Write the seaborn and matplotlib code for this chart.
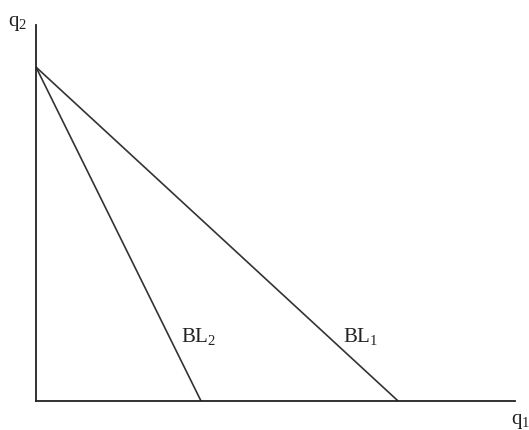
import numpy as np
import pandas as pd
import matplotlib
matplotlib.use("Agg")
import matplotlib.pyplot as plt
import seaborn as sns

# budget lines: q2 intercept (shared) and q1 intercepts
q2_intercept = 10.0
bl_names = ["BL1", "BL2"]
q1_intercepts = [10.84, 4.94]
bl_labels = [r"$\mathregular{BL_1}$", r"$\mathregular{BL_2}$"]
# label anchor (q1, q2) for each line label
label_q1 = [9.2, 4.35]
label_q2 = [1.8, 1.8]


def main():
    sns.set_theme(style="white")
    plt.rcParams["font.family"] = ["Liberation Serif", "DejaVu Serif"]
    plt.rcParams["mathtext.fontset"] = "custom"
    plt.rcParams["mathtext.rm"] = "Liberation Serif"

    rows = []
    for name, x0 in zip(bl_names, q1_intercepts):
        rows.append({"line": name, "q1": 0.0, "q2": q2_intercept})
        rows.append({"line": name, "q1": x0, "q2": 0.0})
    df = pd.DataFrame(rows)

    fig = plt.figure(figsize=(5.29, 4.31), dpi=100)
    ax = fig.add_axes([36 / 529, 29 / 431, 479 / 529, 376 / 431])

    sns.lineplot(data=df, x="q1", y="q2", units="line", estimator=None,
                 color="#333333", linewidth=1.2, ax=ax, legend=False)

    ax.set_xlim(0, 14.34)
    ax.set_ylim(0, 11.26)
    for s in ["top", "right"]:
        ax.spines[s].set_visible(False)
    for s in ["left", "bottom"]:
        ax.spines[s].set_color("#222222")
        ax.spines[s].set_linewidth(1.3)
    ax.set_xticks([])
    ax.set_yticks([])
    ax.set_xlabel("")
    ax.set_ylabel("")

    for lab, x, y in zip(bl_labels, label_q1, label_q2):
        ax.text(x, y, lab, fontsize=15, color="#222222", ha="left", va="baseline")

    fig.text(8 / 529, 1 - 26 / 431, r"$\mathregular{q_2}$", fontsize=15,
             color="#222222", ha="left", va="baseline")
    fig.text(511 / 529, 1 - 424 / 431, r"$\mathregular{q_1}$", fontsize=15,
             color="#222222", ha="left", va="baseline")

    fig.savefig("out.png", dpi=100)


if __name__ == "__main__":
    main()
